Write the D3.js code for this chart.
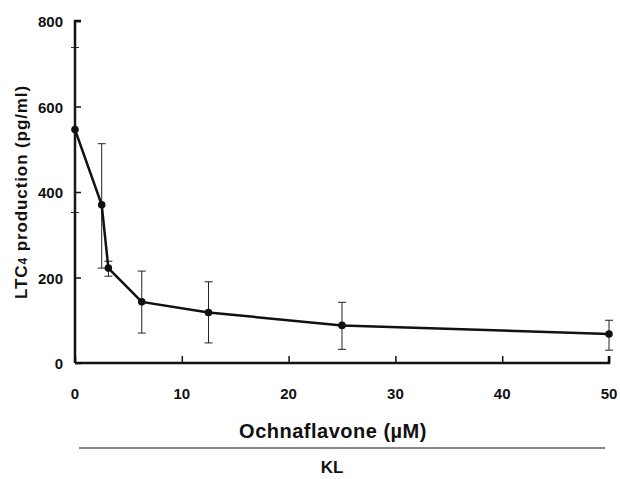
<!DOCTYPE html>
<html>
<head>
<meta charset="utf-8">
<script src="https://cdn.jsdelivr.net/npm/d3@7"></script>
<style>
  body { margin: 0; background: #fff; }
  text { font-family: "Liberation Sans", Arial, sans-serif; font-weight: bold; fill: #111; }
</style>
</head>
<body>
<svg id="chart" width="620" height="479"></svg>
<script>
// concentrations (uM) and LTC4 production (pg/ml)
var conc = [0, 2.5, 3.125, 6.25, 12.5, 25, 50];
var ltc4 = [546, 370, 222, 143, 118, 88, 68];
var errHi = [738, 513, 238, 215, 190, 142, 100];
var errLo = [352, 222, 203, 70, 47, 32, 30];
var xTicks = [0, 10, 20, 30, 40, 50];
var yTicks = [0, 200, 400, 600, 800];

var svg = d3.select("#chart");

var x = d3.scaleLinear().domain([0, 50]).range([75, 609]);
var y = d3.scaleLinear().domain([0, 800]).range([363, 21]);

// axes, ticks pointing inward
var yAxis = svg.append("g").attr("transform", "translate(75,0)")
  .call(d3.axisRight(y).tickValues(yTicks).tickSize(6).tickFormat(""));
var xAxis = svg.append("g").attr("transform", "translate(0,363)")
  .call(d3.axisTop(x).tickValues(xTicks).tickSize(7).tickFormat(""));
svg.selectAll(".domain").attr("stroke", "#111").attr("stroke-width", 2.5);
svg.selectAll(".tick line").attr("stroke", "#111").attr("stroke-width", 1.5);
yAxis.select(".domain").attr("d", "M0," + y(0) + "V" + y(800) + "h6");
xAxis.select(".domain").attr("d", "M" + x(0) + ",0H" + x(50) + "v-7");

// tick labels
svg.selectAll(".ylab").data(yTicks).enter().append("text")
  .attr("x", 63).attr("y", d => y(d) + 6)
  .attr("text-anchor", "end").style("font-size", "15px")
  .text(d => d);
svg.selectAll(".xlab").data(xTicks).enter().append("text")
  .attr("x", d => x(d)).attr("y", 399)
  .attr("text-anchor", "middle").style("font-size", "15px")
  .text(d => d);

// error bars
var pts = conc.map((c, i) => ({c: c, v: ltc4[i], hi: errHi[i], lo: errLo[i]}));
var eb = svg.append("g").attr("stroke", "#222").attr("stroke-width", 1);
pts.forEach(function(p) {
  eb.append("line").attr("x1", x(p.c)).attr("x2", x(p.c)).attr("y1", y(p.hi)).attr("y2", y(p.lo));
  eb.append("line").attr("x1", x(p.c) - 4).attr("x2", x(p.c) + 4).attr("y1", y(p.hi)).attr("y2", y(p.hi));
  eb.append("line").attr("x1", x(p.c) - 4).attr("x2", x(p.c) + 4).attr("y1", y(p.lo)).attr("y2", y(p.lo));
});

// line and dots
svg.append("path").datum(pts)
  .attr("fill", "none").attr("stroke", "#111").attr("stroke-width", 2.5)
  .attr("d", d3.line().x(d => x(d.c)).y(d => y(d.v)));
svg.selectAll(".dot").data(pts).enter().append("circle")
  .attr("cx", d => x(d.c)).attr("cy", d => y(d.v)).attr("r", 3.8).attr("fill", "#111");

// titles
svg.append("text")
  .attr("transform", "translate(27,192) rotate(-90)")
  .attr("text-anchor", "middle").style("font-size", "17px").style("letter-spacing", "0.9px")
  .html('LTC<tspan style="font-size:12px">4</tspan> production (pg/ml)');
svg.append("text").attr("x", 333).attr("y", 438)
  .attr("text-anchor", "middle").style("font-size", "20px").style("letter-spacing", "0.5px")
  .text("Ochnaflavone (\u00b5M)");
svg.append("line").attr("x1", 79).attr("x2", 605).attr("y1", 448).attr("y2", 448)
  .attr("stroke", "#111").attr("stroke-width", 1.2);
svg.append("text").attr("x", 332).attr("y", 473)
  .attr("text-anchor", "middle").style("font-size", "17px")
  .text("KL");
</script>
</body>
</html>
